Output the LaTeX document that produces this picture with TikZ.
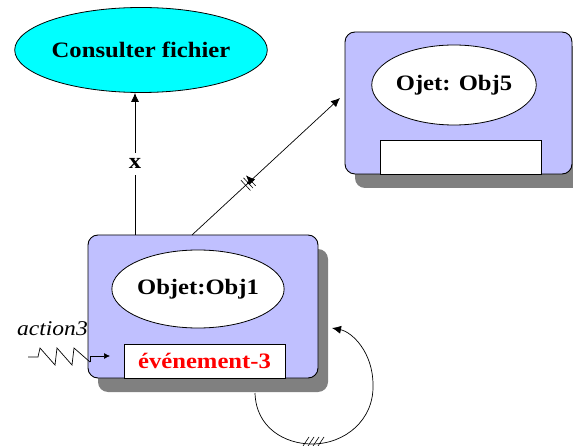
\documentclass[tikz,border=0pt]{standalone}
\usepackage{fontspec}
\newfontfamily\lbl[FakeStretch=1.12]{Liberation Serif}
\usetikzlibrary{shapes.geometric,arrows.meta,shadows,decorations.markings}
\definecolor{lav}{RGB}{192,192,255}
\definecolor{shd}{RGB}{128,128,128}
\definecolor{cyn}{RGB}{0,255,255}
\tikzset{
  txt/.style={font=\fontsize{22}{24}\lbl\bfseries, inner sep=0pt},
  objbox/.style={draw, line width=0.9pt, rounded corners=10pt, fill=lav,
    drop shadow={shadow xshift=10pt, shadow yshift=-14pt, fill=shd, opacity=1}},
  oval/.style={ellipse, draw, line width=0.8pt, fill=white, txt},
  slot/.style={rectangle, draw, line width=0.8pt, fill=white, txt},
  arr/.style={line width=0.7pt, -{Latex[length=9pt,width=8pt]}},
  conn/.style={line width=0.7pt}
}
\begin{document}
\begin{tikzpicture}[x=1pt,y=-1pt]
\useasboundingbox[fill=white] (0,0) rectangle (573,446);
% Consulter fichier
\node[ellipse, draw, line width=0.8pt, fill=cyn, txt, minimum width=232pt, minimum height=85pt] (cf) at (141,50) {Consulter fichier};
% Obj5 box
\node[objbox, minimum width=227pt, minimum height=142pt] (b5) at (458.5,103) {};
\node[oval, minimum width=152pt, minimum height=80pt] (o5) at (454,85) {Ojet: Obj5};
\node[slot, minimum width=161pt, minimum height=34pt] (s5) at (460.5,157) {};
% Obj1 box
\node[objbox, minimum width=230pt, minimum height=143pt] (b1) at (203,306.5) {};
\node[oval, minimum width=154pt, minimum height=78pt] (o1) at (198,289) {Objet:Obj1};
\node[slot, minimum width=161pt, minimum height=34pt, text=red] (s1) at (204.5,361) {événement-3};
% x arrow
\coordinate (xs) at (135,235);
\draw[arr] (xs) -- node[fill=white, txt, inner sep=6pt] {x} (xs |- cf.south);
% diagonal arrow with hatch
\coordinate (ds) at (192,235);
\coordinate (de) at (340,98);
\draw[arr, postaction={decorate}, decoration={markings, mark=at position 0.38 with {
   \draw[line width=0.6pt] (-3.5pt,-7pt) -- (-3.5pt,7pt) (0pt,-7pt) -- (0pt,7pt) (3.5pt,-7pt) -- (3.5pt,7pt);
   \fill (0pt,0pt) circle (1.6pt);}}] (ds) -- (de);
% self loop
\coordinate (ls) at (255,393);
\coordinate (lb) at (312,444);
\coordinate (lr) at (373,385);
\coordinate (le) at (332,328);
\draw[arr] (ls) .. controls (256,428) and (285,444) .. (lb)
  .. controls (345,444) and (374,420) .. (lr)
  .. controls (373,352) and (352,332) .. (le);
\draw[line width=0.6pt] (303,446) -- (309,437) (308,446) -- (314,437) (313,446) -- (319,437) (318,446) -- (324,437);
% action3
\node[font=\fontsize{21}{22}\lbl\itshape, inner sep=0pt, anchor=base west] (act) at (17,336) {action3};
\coordinate (za) at (28,357);
\coordinate (zb) at (90,362);
\coordinate (zc) at (110,356);
\draw[line width=0.7pt] (za) -- (38,357) -- (40,348) -- (55,365) -- (57,348) -- (72,365) -- (74,348) -- (zb);
\draw[line width=0.7pt, -{Latex[length=6pt,width=6pt]}] (zb) -- (zb |- zc) -- (zc);
\end{tikzpicture}
\end{document}
